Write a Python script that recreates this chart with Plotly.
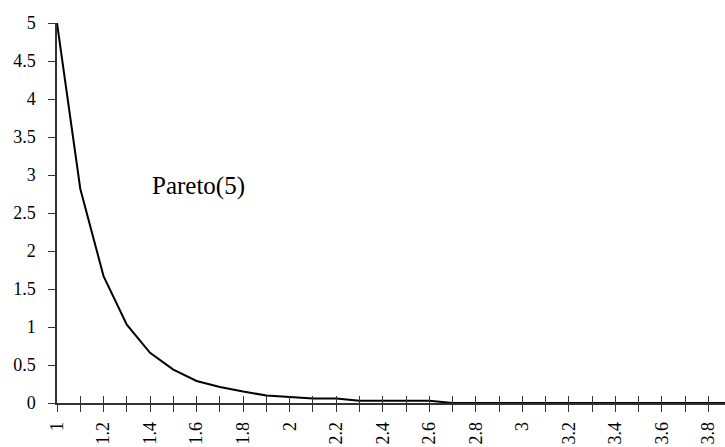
import plotly.graph_objects as go

# Pareto(5) density, sampled on a 0.1 grid
x_values = [1.0, 1.1, 1.2, 1.3, 1.4, 1.5, 1.6, 1.7, 1.8, 1.9,
            2.0, 2.1, 2.2, 2.3, 2.4, 2.5, 2.6, 2.7, 2.8, 2.9,
            3.0, 3.1, 3.2, 3.3, 3.4, 3.5, 3.6, 3.7, 3.8, 3.9]
density = [5.0, 2.82, 1.67, 1.03, 0.66, 0.44, 0.29, 0.21, 0.15, 0.10,
           0.08, 0.06, 0.06, 0.03, 0.03, 0.03, 0.03, 0.0, 0.0, 0.0,
           0.0, 0.0, 0.0, 0.0, 0.0, 0.0, 0.0, 0.0, 0.0, 0.0]

x_tick_values = [1.0, 1.2, 1.4, 1.6, 1.8, 2.0, 2.2, 2.4, 2.6, 2.8,
                 3.0, 3.2, 3.4, 3.6, 3.8]
x_tick_labels = ["1", "1.2", "1.4", "1.6", "1.8", "2", "2.2", "2.4", "2.6",
                 "2.8", "3", "3.2", "3.4", "3.6", "3.8"]
y_tick_values = [0, 0.5, 1, 1.5, 2, 2.5, 3, 3.5, 4, 4.5, 5]
y_tick_labels = ["0", "0.5", "1", "1.5", "2", "2.5", "3", "3.5", "4", "4.5", "5"]

label_text = "Pareto(5)"
label_x, label_y = 1.61, 2.86

FONT = "Liberation Serif, Times New Roman, serif"
AXIS_COLOR = "#333333"
X_RANGE = [1.0, 3.871]

fig = go.Figure()
fig.add_trace(go.Scatter(
    x=x_values, y=density, mode="lines",
    line=dict(color="black", width=2),
    hoverinfo="skip", showlegend=False,
))

fig.add_annotation(
    x=label_x, y=label_y, xref="x", yref="y",
    text=label_text, showarrow=False,
    font=dict(family=FONT, size=25, color="black"),
)

fig.update_layout(
    width=725, height=447,
    margin=dict(l=57, r=0, t=23, b=44, autoexpand=False),
    paper_bgcolor="white", plot_bgcolor="white",
    font=dict(family=FONT, size=18, color="black"),
    xaxis=dict(
        range=X_RANGE, automargin=False,
        tickmode="array", tickvals=x_tick_values, ticktext=x_tick_labels,
        tickangle=-90, ticks="outside", ticklen=7, tickwidth=1,
        tickcolor=AXIS_COLOR,
        minor=dict(dtick=0.1, tick0=1.0, ticks="outside", ticklen=7,
                   tickwidth=1, tickcolor=AXIS_COLOR),
        showline=True, linecolor=AXIS_COLOR, linewidth=1.5,
        showgrid=False, zeroline=False,
        ticklabelstandoff=3,
        tickfont=dict(family=FONT, size=18, color="black"),
    ),
    # upper half of the crossing tick marks on the category axis
    xaxis2=dict(
        range=X_RANGE, overlaying="x", anchor="y", side="bottom",
        automargin=False,
        tickmode="linear", tick0=1.0, dtick=0.1,
        ticks="inside", ticklen=7, tickwidth=1, tickcolor=AXIS_COLOR,
        showticklabels=False, showline=False, showgrid=False, zeroline=False,
    ),
    yaxis=dict(
        range=[0, 5], automargin=False,
        tickmode="array", tickvals=y_tick_values, ticktext=y_tick_labels,
        ticks="outside", ticklen=7, tickwidth=1, tickcolor=AXIS_COLOR,
        showline=True, linecolor=AXIS_COLOR, linewidth=1.5,
        showgrid=False, zeroline=False,
        ticklabelstandoff=9,
        tickfont=dict(family=FONT, size=18, color="black"),
    ),
)

# invisible trace so the secondary axis is drawn
fig.add_trace(go.Scatter(x=[x_values[0]], y=[density[0]], xaxis="x2",
                         mode="markers", marker=dict(opacity=0),
                         hoverinfo="skip", showlegend=False))

fig.write_html("out.html")
